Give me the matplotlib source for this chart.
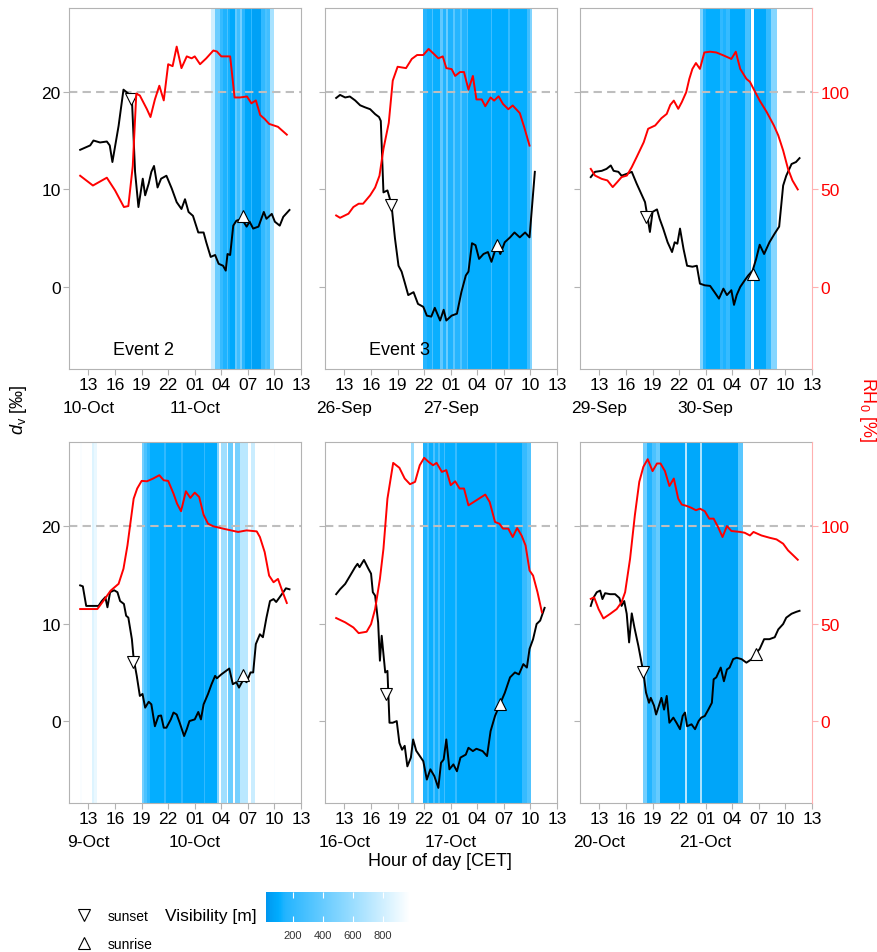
import numpy as np
import matplotlib.pyplot as plt
from matplotlib.colors import LinearSegmentedColormap, Normalize
from matplotlib.cm import ScalarMappable
from matplotlib.lines import Line2D

plt.rcParams['font.family'] = ['Liberation Sans', 'DejaVu Sans']
plt.rcParams['mathtext.fontset'] = 'custom'
plt.rcParams['mathtext.rm'] = 'Liberation Sans'
plt.rcParams['mathtext.it'] = 'Liberation Sans:italic'

# ---- data (time in hours since midnight of first day) ----
ev1_dv_t = [12.06, 13.19, 13.56, 14.3, 15.07, 15.4, 15.7, 16.4, 16.95, 17.5, 17.9, 18.26, 18.64, 19.13, 19.4,
            19.8, 20.1, 20.4, 20.8, 21.2, 21.8, 22.4, 22.96, 23.5, 23.9, 24.3, 24.8, 25.4, 26.0, 26.3, 26.8,
            27.3, 27.7, 28.2, 28.5, 28.7, 29.0, 29.35, 29.7, 30.3, 30.86, 31.2, 31.6, 32.2, 32.8, 33.1, 33.7,
            34.05, 34.6, 35.0, 35.7]
ev1_dv = [14.05, 14.5, 15.0, 14.8, 14.9, 14.5, 12.8, 16.5, 20.2, 19.8, 19.3, 11.8, 8.2, 11.1, 9.4,
          10.6, 11.8, 12.4, 10.2, 11.1, 11.4, 10.1, 8.7, 8.0, 9.0, 7.7, 7.3, 5.6, 5.6, 4.6, 3.1,
          3.3, 2.4, 2.2, 1.7, 3.4, 3.3, 6.3, 6.8, 7.0, 6.2, 6.7, 6.0, 6.2, 7.7, 7.0, 7.5,
          6.7, 6.3, 7.2, 7.9]
ev1_rh_t = [12.06, 13.5, 15.07, 16.0, 17.0, 17.5, 18.0, 18.4, 18.8, 19.6, 20.0, 20.5, 21.0, 21.5, 22.0, 22.5,
            22.96, 23.5, 24.1, 24.65, 25.0, 25.6, 26.3, 27.1, 27.5, 28.0, 29.0, 29.5, 30.1, 30.9, 31.4, 31.9,
            32.4, 32.9, 33.4, 34.4, 35.4]
ev1_rh = [57, 52, 56, 49.5, 41, 41.5, 62, 99, 98, 91, 87, 96, 103, 95.5, 114, 113,
          123, 112, 118, 117, 118, 114, 117, 121, 120.5, 118, 118, 97, 97, 97.5, 94, 95.5,
          88, 86, 83.5, 82, 78]
ev1_vis = [(26.8, 27.25, 800), (27.25, 27.85, 420), (27.85, 28.2, 220), (28.2, 28.6, 140), (28.6, 28.75, 300),
           (28.75, 29.0, 130), (29.0, 29.5, 90), (29.5, 29.8, 380), (29.8, 30.1, 250), (30.1, 30.3, 450),
           (30.3, 30.7, 170), (30.7, 31.3, 80), (31.3, 31.45, 200), (31.45, 32.5, 60), (32.5, 32.9, 200),
           (32.9, 33.2, 300), (33.2, 33.5, 260), (33.5, 33.95, 650)]
ev1_sun = [(17.8, 19.25), (30.5, 7.3)]

ev2_dv_t = [12.06, 12.5, 13.08, 13.6, 14.2, 14.77, 15.3, 15.9, 16.46, 16.9, 17.1, 17.4, 17.85, 18.3, 18.7,
            19.1, 19.45, 19.8, 20.2, 20.8, 21.3, 21.9, 22.3, 22.8, 23.2, 23.8, 24.2, 24.5, 25.1, 25.7, 26.2,
            26.7, 27.0, 27.4, 27.8, 28.2, 28.7, 29.2, 29.6, 30.2, 30.6, 31.1, 31.7, 32.2, 32.8, 33.4, 33.9, 34.5]
ev2_dv = [19.35, 19.66, 19.4, 19.5, 19.1, 18.6, 18.4, 18.2, 17.7, 17.4, 17.0, 9.7, 9.9, 8.5, 5.0,
          2.2, 1.6, 0.5, -0.8, -0.5, -1.7, -2.0, -2.9, -3.0, -2.1, -3.4, -2.3, -3.4, -2.9, -2.7, -0.5,
          1.2, 1.6, 4.5, 4.3, 2.9, 3.4, 3.6, 2.6, 4.3, 3.4, 4.6, 5.1, 5.6, 5.1, 5.6, 5.1, 11.8]
ev2_rh_t = [12.06, 12.5, 13.45, 14.0, 14.6, 15.1, 15.9, 16.46, 16.95, 17.4, 18.0, 18.45, 19.0, 19.95, 20.6,
            21.2, 21.9, 22.5, 23.15, 23.6, 24.1, 24.5, 25.1, 25.5, 26.05, 26.5, 27.0, 27.5, 27.9, 28.5, 28.9,
            29.5, 29.9, 30.4, 30.9, 31.5, 32.0, 32.8, 33.3, 33.9]
ev2_rh = [36.7, 35.5, 37.6, 41, 42.7, 42.7, 47, 51, 57, 70.7, 84, 105.6, 112.7, 112, 116.7,
          118.7, 118.7, 121.8, 119, 117, 118, 112, 111.5, 108, 110, 110, 101, 108, 96, 96, 92.5,
          97, 95.4, 97.6, 93.7, 91, 92.9, 89, 81.8, 72.4]
ev2_vis = [(21.85, 22.3, 160), (22.3, 22.9, 130), (22.9, 23.0, 300), (23.0, 23.8, 120), (23.8, 24.1, 380),
           (24.1, 24.5, 150), (24.5, 24.7, 420), (24.7, 25.2, 140), (25.2, 25.5, 350), (25.5, 26.0, 160),
           (26.0, 26.3, 330), (26.3, 26.8, 150), (26.8, 27.0, 300), (27.0, 29.5, 110), (29.5, 29.65, 250),
           (29.65, 31.5, 100), (31.5, 31.7, 220), (31.7, 33.6, 110), (33.6, 34.0, 250), (34.0, 34.2, 500)]
ev2_sun = [(18.3, 8.4), (30.2, 4.3)]

ev3_dv_t = [12.02, 12.5, 13.26, 13.8, 14.28, 14.6, 15.14, 15.5, 16.1, 16.65, 17.2, 17.8, 18.15, 18.4, 18.7,
            19.0, 19.5, 19.8, 20.2, 20.7, 21.2, 21.5, 21.8, 22.1, 22.5, 22.9, 23.5, 24.0, 24.35, 24.9, 25.5,
            26.0, 26.5, 27.0, 27.4, 27.9, 28.2, 28.5, 28.9, 29.4, 29.8, 30.3, 30.7, 31.1, 31.6, 32.2, 32.8,
            33.3, 33.75, 34.1, 34.7, 35.2, 35.6]
ev3_dv = [11.26, 11.8, 11.9, 12.1, 12.45, 11.9, 11.8, 11.4, 11.6, 11.8, 10.6, 9.4, 8.7, 7.35, 5.65,
          7.7, 7.96, 7.0, 6.0, 4.6, 3.6, 4.6, 4.45, 6.0, 3.9, 2.2, 2.1, 2.2, 0.37, 0.2, 0.14,
          -0.5, -1.16, -0.14, -0.8, -0.3, -1.8, -0.8, 0.03, 0.7, 1.2, 1.7, 2.9, 4.35, 3.4, 4.6, 5.5,
          6.2, 10.4, 11.4, 12.6, 12.8, 13.2]
ev3_rh_t = [12.02, 12.5, 13.26, 13.9, 14.5, 15.0, 15.5, 16.1, 16.65, 17.2, 18.0, 18.5, 19.3, 20.0, 20.6,
            21.0, 21.4, 21.9, 22.3, 22.8, 23.15, 23.5, 23.9, 24.35, 24.85, 25.5, 26.2, 27.06, 27.9, 28.4,
            28.9, 29.6, 30.0, 30.6, 31.1, 31.9, 32.7, 33.2, 33.75, 34.3, 34.8, 35.4]
ev3_rh = [60.5, 57.1, 55.4, 54.6, 51.2, 53.7, 56.3, 57.1, 61.4, 66.5, 74.1, 81, 82.7, 86.4, 88.6,
          93.2, 95.4, 91.2, 94.6, 99.7, 106.5, 111.6, 114.6, 111.6, 120, 120.4, 120, 118.4, 116.7, 120.4,
          111.6, 106.5, 105, 99.7, 95.4, 89.5, 82.7, 77.6, 69.9, 60.5, 54.6, 50]
ev3_vis = [(24.35, 24.7, 500), (24.7, 25.0, 160), (25.0, 26.6, 110), (26.6, 27.0, 200), (27.0, 27.3, 140),
           (27.3, 27.7, 220), (27.7, 29.4, 100), (29.4, 30.0, 280), (30.0, 30.07, 180), (30.5, 31.85, 90),
           (31.85, 32.4, 220), (32.4, 33.0, 520)]
ev3_sun = [(18.3, 7.2), (30.3, 1.4)]

ev4_dv_t = [12.06, 12.36, 12.74, 13.38, 14.13, 14.5, 14.9, 15.14, 15.44, 15.9, 16.27, 16.57, 17.0, 17.25, 17.5,
            17.9, 18.1, 18.45, 18.8, 19.1, 19.4, 19.8, 20.1, 20.5, 20.9, 21.2, 21.5, 21.8, 22.3, 22.6, 22.96,
            23.3, 23.8, 24.1, 24.4, 25.0, 25.4, 25.7, 26.0, 26.5, 26.9, 27.3, 27.5, 28.0, 28.9, 29.3, 29.7,
            30.0, 30.5, 30.85, 31.3, 31.6, 31.9, 32.36, 32.7, 33.1, 33.5, 33.9, 34.2, 34.6, 35.0, 35.3, 35.7]
ev4_dv = [13.9, 13.8, 11.8, 11.8, 11.8, 12.3, 12.7, 11.66, 13.2, 13.4, 13.2, 12.3, 12.0, 10.8, 10.6,
          8.4, 6.4, 4.65, 2.6, 2.8, 1.4, 2.0, 1.74, -0.5, 0.55, 0.6, -0.65, -0.65, 0.2, 0.9, 0.7,
          -0.14, -1.5, -0.8, 0.03, 0.2, 0.96, 0.2, 1.74, 2.8, 3.8, 4.65, 4.4, 4.8, 5.4, 3.8, 4.0,
          3.45, 4.3, 4.0, 5.0, 5.0, 7.9, 8.9, 8.6, 10.6, 12.3, 12.5, 12.2, 12.7, 13.2, 13.6, 13.5]
ev4_rh_t = [12.06, 14.0, 14.7, 15.5, 16.4, 16.95, 17.4, 17.7, 18.1, 18.5, 19.0, 19.6, 20.3, 21.0, 21.5,
            22.0, 22.6, 23.0, 23.45, 24.0, 24.5, 25.0, 25.5, 26.0, 26.5, 27.1, 28.2, 29.9, 30.85, 32.0,
            32.36, 32.9, 33.4, 33.9, 34.4, 34.9, 35.4]
ev4_rh = [57.4, 57.4, 61.7, 66.8, 70.3, 78, 89.9, 100.2, 113.8, 119, 122.9, 122.7, 124.1, 125.8, 123.2,
          122.9, 116.4, 111.3, 107.4, 117.6, 114.2, 116.9, 114.7, 105.6, 101, 99.7, 98.5, 96.8, 97.6, 97.1,
          94.2, 86.5, 74.5, 71.1, 72.8, 66.5, 60.5]
ev4_vis = [(12.06, 12.3, 960), (13.4, 13.6, 850), (13.6, 14.0, 900), (19.0, 19.3, 450), (19.3, 19.6, 300),
           (19.6, 20.0, 180), (20.0, 21.5, 110), (21.5, 21.7, 200), (21.7, 23.5, 100), (23.5, 23.7, 180),
           (23.7, 26.0, 90), (26.0, 26.2, 200), (26.2, 27.5, 100), (27.5, 27.7, 500), (28.0, 28.6, 620),
           (28.8, 29.35, 420), (29.5, 30.1, 460), (30.1, 31.0, 720), (31.4, 31.8, 780), (33.9, 34.1, 960)]
ev4_sun = [(18.0, 6.1), (30.5, 4.75)]

ev5_dv_t = [12.06, 12.5, 13.08, 13.64, 14.2, 14.47, 14.7, 15.2, 15.7, 16.0, 16.2, 16.46, 16.8, 17.0, 17.2,
            17.6, 17.85, 18.08, 18.45, 18.9, 19.2, 19.5, 19.8, 20.1, 20.5, 20.75, 21.1, 21.9, 22.3, 22.7,
            23.15, 23.6, 23.9, 24.2, 24.5, 24.85, 25.3, 25.7, 26.1, 26.7, 27.0, 27.5, 27.9, 28.6, 29.1, 29.5,
            30.0, 30.55, 31.1, 31.7, 32.25, 32.7, 33.2, 33.6, 33.9, 34.3, 34.7, 35.1, 35.6]
ev5_dv = [13.0, 13.5, 14.05, 14.9, 15.76, 16.1, 15.76, 16.5, 15.6, 15.1, 13.2, 12.85, 10.1, 6.2, 8.75,
          5.0, 5.16, -0.14, -0.14, 0.03, -2.2, -2.9, -2.5, -4.6, -3.7, -1.85, -3.0, -4.07, -5.95, -4.9,
          -5.6, -6.8, -4.24, -3.9, -1.85, -4.9, -4.4, -5.1, -3.7, -3.4, -2.7, -3.04, -2.8, -3.04, -3.55, -1.0,
          0.55, 1.74, 2.9, 4.5, 5.0, 4.8, 5.85, 5.5, 7.4, 8.4, 9.95, 10.3, 11.6]
ev5_rh_t = [12.06, 13.08, 14.0, 14.6, 15.5, 16.0, 16.46, 17.0, 17.4, 17.85, 18.5, 19.2, 19.8, 20.4, 20.97,
            21.5, 22.0, 22.5, 23.0, 23.4, 24.0, 24.5, 25.0, 25.5, 26.0, 26.5, 27.0, 28.9, 29.4, 30.0,
            30.5, 30.9, 31.5, 32.0, 32.5, 33.0, 33.45, 33.9, 34.3, 34.8, 35.3]
ev5_rh = [52.8, 50.6, 48.0, 45.1, 45.8, 49.7, 57.4, 72.8, 88.2, 113.8, 132.1, 129.6, 124.1, 121.2, 122.4,
          130.9, 134.7, 132.6, 130.9, 132.1, 127.5, 128.4, 120.7, 122.7, 119, 119, 110.4, 115.9, 112.1, 101.9,
          101, 98.5, 98.5, 94.2, 98.8, 95, 89.9, 77.1, 74.5, 66, 55.7]
ev5_vis = [(20.5, 20.9, 600), (21.9, 22.3, 140), (22.3, 22.5, 280), (22.5, 23.0, 120), (23.0, 23.2, 300),
           (23.2, 23.6, 130), (23.6, 23.8, 280), (23.8, 24.2, 120), (24.2, 24.4, 260), (24.4, 25.5, 110),
           (25.5, 25.7, 230), (25.7, 30.0, 100), (30.0, 30.2, 220), (30.2, 33.0, 105), (33.0, 33.6, 220),
           (33.6, 34.05, 320)]
ev5_sun = [(17.7, 2.77), (30.55, 1.74)]

ev6_dv_t = [12.02, 12.3, 12.7, 13.08, 13.34, 13.64, 14.2, 14.77, 15.26, 15.5, 15.8, 16.08, 16.35, 16.65, 16.95,
            17.4, 17.96, 18.26, 18.6, 18.8, 19.17, 19.4, 19.65, 20.0, 20.3, 20.6, 20.9, 21.35, 21.7, 22.1,
            22.4, 22.66, 22.9, 23.4, 23.8, 24.2, 24.5, 24.9, 25.3, 25.7, 25.9, 26.2, 26.7, 27.06, 27.4, 27.7,
            28.1, 28.5, 29.05, 29.6, 30.2, 30.7, 31.1, 31.6, 32.2, 32.8, 33.2, 33.75, 34.1, 34.7, 35.25, 35.6]
ev6_dv = [11.8, 12.6, 13.2, 13.37, 12.5, 13.1, 13.0, 13.0, 12.6, 11.8, 12.3, 11.0, 8.07, 11.04, 9.6,
          7.7, 5.0, 2.94, 1.9, 2.4, 1.6, 0.7, 1.4, 2.4, 1.2, 2.6, -0.14, 0.38, -0.14, -0.8,
          0.55, 0.9, -0.5, -0.3, -0.8, 0.03, 0.38, 0.55, 1.2, 1.9, 4.3, 4.5, 5.5, 4.1, 5.3, 5.5,
          6.36, 6.5, 6.36, 6.0, 6.36, 6.97, 7.4, 8.4, 8.4, 8.6, 9.4, 9.95, 10.6, 11.0, 11.2, 11.3]
ev6_rh_t = [12.02, 12.4, 12.9, 13.45, 14.2, 14.95, 15.5, 15.9, 16.46, 17.0, 17.5, 17.96, 18.45, 19.0, 19.5,
            19.9, 20.4, 20.9, 21.4, 21.9, 22.3, 22.85, 23.4, 23.9, 24.35, 24.9, 25.4, 25.9, 26.4, 26.9,
            27.4, 27.9, 28.9, 29.4, 30.0, 30.4, 31.3, 32.25, 33.0, 33.75, 34.3, 34.9, 35.4]
ev6_rh = [62.6, 63.4, 57.4, 52.6, 54.9, 57.4, 60.9, 66, 83.1, 105.3, 122.4, 130.1, 134, 127.9, 131.8,
          131.8, 127.9, 120.3, 124.1, 113.8, 110.8, 110.1, 109.1, 107.9, 108.7, 107.4, 103.6, 103.6, 99.3, 94.2,
          99.8, 97.3, 96.8, 96.4, 95, 96.8, 95, 93.8, 93, 90.8, 87.4, 84.8, 82.6]
ev6_vis = [(17.9, 18.35, 450), (18.35, 18.9, 150), (18.9, 19.4, 300), (19.4, 19.85, 400), (19.85, 22.66, 90),
           (22.66, 22.85, 700), (22.85, 24.35, 85), (24.35, 24.55, 650), (24.55, 28.7, 75), (28.7, 29.25, 350)]
ev6_sun = [(17.96, 5.0), (30.7, 6.87)]

dates = [('10-Oct', '11-Oct'), ('26-Sep', '27-Sep'), ('29-Sep', '30-Sep'),
         ('9-Oct', '10-Oct'), ('16-Oct', '17-Oct'), ('20-Oct', '21-Oct')]
event_names = ['Event 2', 'Event 3', None, None, None, None]
hour_ticks = [13, 16, 19, 22, 25, 28, 31, 34, 37]
date_ticks = [13, 25]

panels = [
    (ev1_dv_t, ev1_dv, ev1_rh_t, ev1_rh, ev1_vis, ev1_sun),
    (ev2_dv_t, ev2_dv, ev2_rh_t, ev2_rh, ev2_vis, ev2_sun),
    (ev3_dv_t, ev3_dv, ev3_rh_t, ev3_rh, ev3_vis, ev3_sun),
    (ev4_dv_t, ev4_dv, ev4_rh_t, ev4_rh, ev4_vis, ev4_sun),
    (ev5_dv_t, ev5_dv, ev5_rh_t, ev5_rh, ev5_vis, ev5_sun),
    (ev6_dv_t, ev6_dv, ev6_rh_t, ev6_rh, ev6_vis, ev6_sun),
]

vis_cmap = LinearSegmentedColormap.from_list(
    'vis', [(0.0, '#0096ef'), (0.05, '#00a4f8'), (0.09, '#00adff'), (0.13, '#22b4ff'), (1.0, '#ffffff')])
vis_norm = Normalize(20, 980)

fig = plt.figure(figsize=(8.77, 9.53), dpi=100)
lefts = [0.0787, 0.3706, 0.6613]
bottoms = [0.6118, 0.1563]
w, h = 0.2645, 0.3788
grey = '#b3b3b3'
ylo, yhi = -8.35, 28.55

for i, (dt, dv, rt, rh, vis, sun) in enumerate(panels):
    col, row = i % 3, i // 3
    ax = fig.add_axes([lefts[col], bottoms[row], w, h])
    for t0, t1, v in vis:
        ax.axvspan(t0, t1, color=vis_cmap(vis_norm(v)), lw=0, zorder=0)
    ax.axhline(20, color='#bebebe', lw=1.5, ls=(0, (4, 2.5)), zorder=1)
    ax.plot(dt, dv, color='black', lw=1.4, zorder=3)
    ax.plot(sun[0][0], sun[0][1], marker='v', ms=8, mfc='white', mec='black', mew=0.8, zorder=4)
    ax.plot(sun[1][0], sun[1][1], marker='^', ms=8, mfc='white', mec='black', mew=0.8, zorder=4)
    if event_names[i]:
        ax.text(19.2, -6.4, event_names[i], ha='center', va='center', fontsize=13)
    ax.set_xlim(10.8, 37.0)
    ax.set_ylim(ylo, yhi)
    ax.xaxis.remove_overlapping_locs = False
    ax.set_xticks(hour_ticks)
    ax.set_xticklabels(['%02d' % (hh % 24) for hh in hour_ticks])
    ax.set_xticks(date_ticks, minor=True)
    ax.set_xticklabels(list(dates[i]), minor=True)
    ax.set_yticks([0, 10, 20])
    for s in ax.spines.values():
        s.set_color(grey)
    ax.tick_params(direction='out', length=4, color=grey, labelsize=12.5, pad=2)
    ax.tick_params(axis='x', which='minor', length=0, labelsize=12.5, pad=22)
    if col != 0:
        ax.tick_params(left=False, labelleft=False)

    ax2 = ax.twinx()
    ax2.plot(rt, rh, color='red', lw=1.4)
    ax2.set_ylim(ylo * 5, yhi * 5)
    for s in ax2.spines.values():
        s.set_visible(False)
    if col == 2:
        ax.spines['right'].set_visible(False)
        ax2.spines['right'].set_visible(True)
        ax2.spines['right'].set_color('#ffb0b0')
        ax2.set_yticks([0, 50, 100])
        ax2.tick_params(direction='out', length=4, color='#ffb0b0', labelcolor='red', labelsize=12.5, pad=2)
    else:
        ax2.set_yticks([])

fig.text(0.021, 0.570, r'$d_{\mathrm{v}}$ [‰]', rotation=90, ha='center', va='center', fontsize=13)
fig.text(0.989, 0.570, r'$\mathrm{RH}_0$ [%]', rotation=270, ha='center', va='center', fontsize=13, color='red')
fig.text(0.502, 0.0955, 'Hour of day [CET]', ha='center', va='center', fontsize=13)

# legend for sunset / sunrise
handles = [Line2D([], [], ls='none', marker='v', ms=8, mfc='white', mec='black', mew=0.8),
           Line2D([], [], ls='none', marker='^', ms=8, mfc='white', mec='black', mew=0.8)]
fig.legend(handles, ['sunset', 'sunrise'], loc='upper left', bbox_to_anchor=(0.088, 0.045),
           frameon=False, fontsize=10, handlelength=1.0, handletextpad=1.2, labelspacing=1.0,
           borderpad=0, borderaxespad=0)

# visibility colourbar
fig.text(0.293, 0.0378, 'Visibility [m]', ha='right', va='center', fontsize=12.5)
cax = fig.add_axes([0.3033, 0.0315, 0.1642, 0.0315])
cb = fig.colorbar(ScalarMappable(norm=vis_norm, cmap=vis_cmap), cax=cax, orientation='horizontal')
cb.set_ticks([200, 400, 600, 800])
cb.outline.set_visible(False)
cax.tick_params(direction='in', length=4, color='white', labelcolor='#333333', labelsize=8, top=True, pad=6)

fig.savefig('out.png', dpi=100)
